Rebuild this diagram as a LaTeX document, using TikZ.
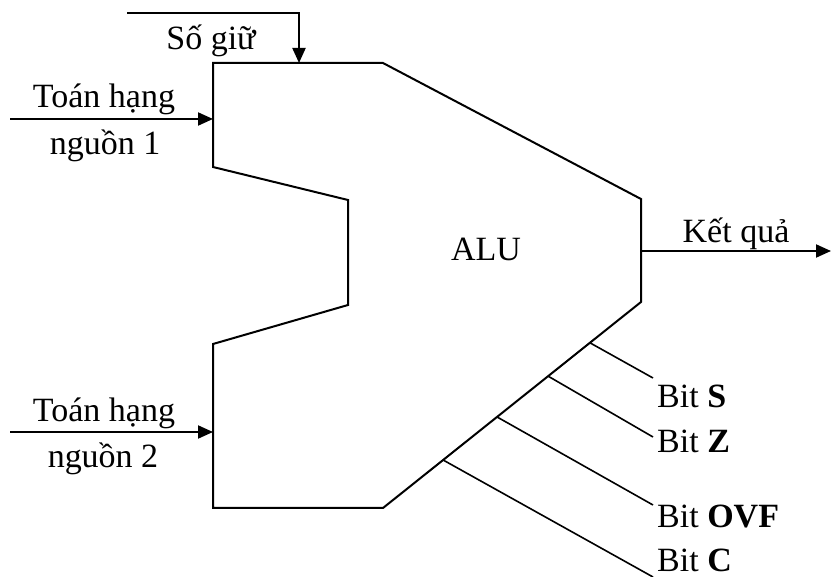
\documentclass[tikz,border=0pt]{standalone}
\usepackage{fontspec}
\setmainfont{Liberation Serif}
\usetikzlibrary{arrows.meta}
\begin{document}
\begin{tikzpicture}[x=1pt,y=-1pt,
  wire/.style={line width=2pt},
  arr/.style={line width=2pt,-{Triangle[length=15pt,width=13pt]}},
  lbl/.style={inner sep=0pt,anchor=base,font=\fontsize{34}{40}\selectfont},
  bitlbl/.style={inner sep=0pt,anchor=base west,font=\fontsize{34}{40}\selectfont},
  thin/.style={line width=1.6pt}]
\useasboundingbox (0,0) rectangle (831,577);
% ALU body
\coordinate (p1) at (213,63);
\coordinate (p2) at (383,63);
\coordinate (p3) at (641,199);
\coordinate (p4) at (641,302);
\coordinate (p5) at (383,508);
\coordinate (p6) at (213,508);
\coordinate (p7) at (213,344);
\coordinate (p8) at (348,305);
\coordinate (p9) at (348,200);
\coordinate (p10) at (213,167);
\draw[wire,line join=miter] (p1) -- (p2) -- (p3) -- (p4) -- (p5) -- (p6) -- (p7) -- (p8) -- (p9) -- (p10) -- cycle;
\node[lbl] (alu) at (486,261) {ALU};
% inputs
\coordinate (in1s) at (10,119);
\coordinate (in1e) at (213,119);
\draw[arr] (in1s) -- (in1e);
\node[lbl] (t1) at (104,108) {Toán hạng};
\node[lbl] (n1) at (105,155) {nguồn 1};
\coordinate (in2s) at (10,432);
\coordinate (in2e) at (213,432);
\draw[arr] (in2s) -- (in2e);
\node[lbl] (t2) at (104,422) {Toán hạng};
\node[lbl] (n2) at (103,468) {nguồn 2};
% carry
\coordinate (cs) at (127,13);
\coordinate (cc) at (299,13);
\coordinate (ce) at (299,63);
\draw[arr] (cs) -- (cc) -- (ce);
\node[lbl] (carry) at (211,50) {Số giữ};
% result
\coordinate (rs) at (641,251);
\coordinate (re) at (831,251);
\draw[arr] (rs) -- (re);
\node[lbl] (res) at (736,243) {Kết quả};
% flags
\path (p4) -- (p5)
  coordinate[pos=0.198] (s0)
  coordinate[pos=0.36] (z0)
  coordinate[pos=0.558] (o0)
  coordinate[pos=0.767] (c0);
\coordinate (s1) at (653,378);
\coordinate (z1) at (653,437);
\coordinate (o1) at (653,505);
\coordinate (c1) at (653,577);
\draw[thin] (s0) -- (s1);
\draw[thin] (z0) -- (z1);
\draw[thin] (o0) -- (o1);
\draw[thin] (c0) -- (c1);
\node[bitlbl] (bs) at (657,408) {Bit \textbf{S}};
\node[bitlbl] (bz) at (657,453) {Bit \textbf{Z}};
\node[bitlbl] (bo) at (657,528) {Bit \textbf{OVF}};
\node[bitlbl] (bc) at (657,571) {Bit \textbf{C}};
\end{tikzpicture}
\end{document}
